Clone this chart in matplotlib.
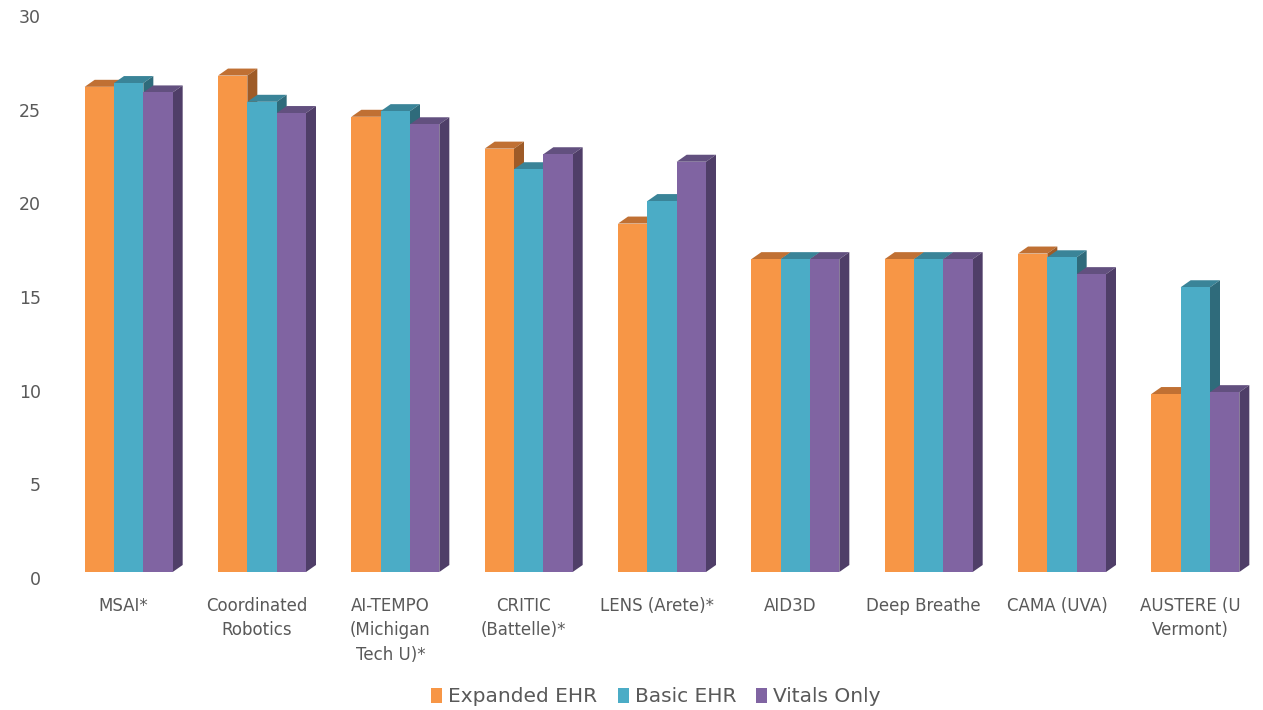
import matplotlib.pyplot as plt
import numpy as np
from matplotlib.patches import Polygon
from matplotlib.transforms import ScaledTranslation

categories = ["MSAI*", "Coordinated\nRobotics", "AI-TEMPO\n(Michigan\nTech U)*",
              "CRITIC\n(Battelle)*", "LENS (Arete)*", "AID3D", "Deep Breathe",
              "CAMA (UVA)", "AUSTERE (U\nVermont)"]
expanded_ehr = [25.9, 26.5, 24.3, 22.6, 18.6, 16.7, 16.7, 17.0, 9.5]
basic_ehr = [26.1, 25.1, 24.6, 21.5, 19.8, 16.7, 16.7, 16.8, 15.2]
vitals_only = [25.6, 24.5, 23.9, 22.3, 21.9, 16.7, 16.7, 15.9, 9.6]
series_names = ["Expanded EHR", "Basic EHR", "Vitals Only"]

# front / top / side face colours per series
front = ["#F79646", "#4BACC6", "#8064A2"]
top = ["#C07033", "#3A8498", "#62507F"]
side = ["#9E5B27", "#2F6B7B", "#4F3E68"]
text_col = "#595959"

W, H = 1263, 710
fig = plt.figure(figsize=(W / 100, H / 100), dpi=100)
ax_l, ax_r, ax_b, ax_t = 62, 1262, 572, 10
ax = fig.add_axes([ax_l / W, 1 - ax_b / H, (ax_r - ax_l) / W, (ax_b - ax_t) / H])
ax.set_xlim(-0.5, len(categories) - 0.5)
ax.set_ylim(0, 30)

# pixel -> data conversions for the 3D depth
px_x = (len(categories)) / (ax_r - ax_l)
px_y = 30 / (ax_b - ax_t)
ddx, ddy = 10 * px_x, 7 * px_y

x = np.arange(len(categories))
w = 0.22
for i, (vals, name) in enumerate(zip([expanded_ehr, basic_ehr, vitals_only], series_names)):
    xs = x + (i - 1) * w
    ax.bar(xs, vals, width=w, color=front[i], label=name, zorder=3,
           edgecolor="none")
    for xc, v in zip(xs, vals):
        x0, x1 = xc - w / 2, xc + w / 2
        ax.add_patch(Polygon([(x0, v), (x1, v), (x1 + ddx, v + ddy), (x0 + ddx, v + ddy)],
                             closed=True, facecolor=top[i], edgecolor="none", zorder=2))
        ax.add_patch(Polygon([(x1, 0), (x1 + ddx, ddy), (x1 + ddx, v + ddy), (x1, v)],
                             closed=True, facecolor=side[i], edgecolor="none", zorder=2))

for s in ax.spines.values():
    s.set_visible(False)
ax.set_yticks([0, 5, 10, 15, 20, 25, 30])
ax.tick_params(axis="y", length=0, pad=15, labelsize=12.5, labelcolor=text_col)
ax.tick_params(axis="x", length=0, pad=18, labelsize=12, labelcolor=text_col)
ax.set_xticks(x)
ax.set_xticklabels(categories, linespacing=1.45, va="top")
offset = ScaledTranslation(0, -6 / 100, fig.dpi_scale_trans)
for lab in ax.get_yticklabels():
    lab.set_transform(lab.get_transform() + offset)
for lab in ax.get_xticklabels():
    lab.set_transform(lab.get_transform() + ScaledTranslation(-5 / 100, 0, fig.dpi_scale_trans))

fig.legend(loc="center", bbox_to_anchor=(656 / W, 1 - 697 / H), ncol=3, frameon=False,
           fontsize=14.5, labelcolor=text_col, handlelength=0.55, handleheight=0.8,
           handletextpad=0.3, columnspacing=1.0)

fig.savefig("out.png", dpi=100)
